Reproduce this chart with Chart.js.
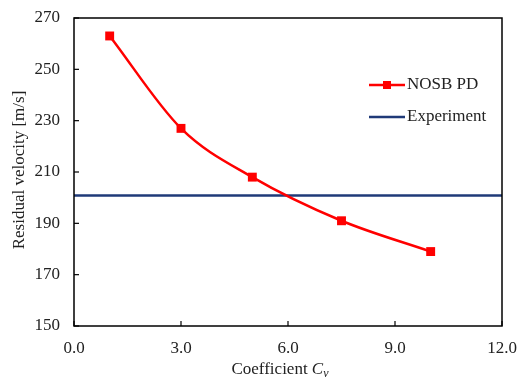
<!DOCTYPE html>
<html>
<head>
<meta charset="utf-8">
<script src="https://cdn.jsdelivr.net/npm/chart.js@4/dist/chart.umd.min.js"></script>
<style>
html,body{margin:0;padding:0;background:#fff;}
#wrap{width:519px;height:380px;position:relative;}
</style>
</head>
<body>
<div id="wrap"><canvas id="c" width="519" height="380"></canvas></div>
<script>
const cvValues = [1, 3, 5, 7.5, 10];
const nosbVelocity = [263, 227, 208, 191, 179];
const experimentVelocity = 200.8;
const xTicks = [0, 3, 6, 9, 12];
const yTicks = [150, 170, 190, 210, 230, 250, 270];
const seriesNames = ['NOSB PD', 'Experiment'];
const xTitle = 'Coefficient ';
const yTitle = 'Residual velocity [m/s]';

const FONT = '"Liberation Serif", "Times New Roman", serif';
const RED = '#ff0000';
const NAVY = '#1f3a78';
const TXT = '#222';

const nosbData = cvValues.map((x, i) => ({x: x, y: nosbVelocity[i]}));
const expData = [{x: xTicks[0], y: experimentVelocity}, {x: xTicks[xTicks.length - 1], y: experimentVelocity}];

const framePlugin = {
  id: 'frame',
  afterDraw(chart) {
    const {ctx, chartArea: a, scales} = chart;
    ctx.save();
    ctx.strokeStyle = '#000';
    ctx.lineWidth = 1.5;
    ctx.strokeRect(a.left, a.top, a.right - a.left, a.bottom - a.top);
    ctx.lineWidth = 1.2;
    ctx.fillStyle = TXT;
    ctx.font = '17px ' + FONT;
    // inside ticks + labels
    ctx.textAlign = 'center';
    ctx.textBaseline = 'middle';
    xTicks.forEach(v => {
      const px = scales.x.getPixelForValue(v);
      ctx.beginPath(); ctx.moveTo(px, a.bottom); ctx.lineTo(px, a.bottom - 5); ctx.stroke();
      ctx.fillText(v.toFixed(1), px, a.bottom + 23);
    });
    ctx.textAlign = 'right';
    yTicks.forEach(v => {
      const py = scales.y.getPixelForValue(v);
      ctx.beginPath(); ctx.moveTo(a.left, py); ctx.lineTo(a.left + 5, py); ctx.stroke();
      ctx.fillText(String(v), a.left - 14, py);
    });
    // legend
    const lx = 369, lx2 = 405;
    const ly1 = 85, ly2 = 117;
    ctx.lineWidth = 2.5;
    ctx.strokeStyle = RED;
    ctx.beginPath(); ctx.moveTo(lx, ly1); ctx.lineTo(lx2, ly1); ctx.stroke();
    ctx.fillStyle = RED;
    ctx.fillRect((lx + lx2) / 2 - 4, ly1 - 4, 8, 8);
    ctx.strokeStyle = NAVY;
    ctx.beginPath(); ctx.moveTo(lx, ly2); ctx.lineTo(lx2, ly2); ctx.stroke();
    ctx.fillStyle = TXT;
    ctx.font = '17px ' + FONT;
    ctx.textBaseline = 'middle';
    ctx.textAlign = 'left';
    ctx.fillText(seriesNames[0], lx2 + 2, ly1);
    ctx.fillText(seriesNames[1], lx2 + 2, ly2);
    // x title with italic C and subscript v
    ctx.font = '17px ' + FONT;
    const w1 = ctx.measureText(xTitle).width;
    ctx.font = 'italic 17px ' + FONT;
    const w2 = ctx.measureText('C').width;
    ctx.font = 'italic 12px ' + FONT;
    const w3 = ctx.measureText('v').width;
    const total = w1 + w2 + w3;
    let sx = 280 - total / 2;
    const ty = 374;
    ctx.textBaseline = 'alphabetic';
    ctx.font = '17px ' + FONT;
    ctx.fillText(xTitle, sx, ty);
    sx += w1;
    ctx.font = 'italic 17px ' + FONT;
    ctx.fillText('C', sx, ty);
    sx += w2;
    ctx.font = 'italic 12px ' + FONT;
    ctx.fillText('v', sx, ty + 3);
    // y title
    ctx.save();
    ctx.translate(20, 170);
    ctx.rotate(-Math.PI / 2);
    ctx.font = '17px ' + FONT;
    ctx.textAlign = 'center';
    ctx.textBaseline = 'middle';
    ctx.fillText(yTitle, 0, 0);
    ctx.restore();
    ctx.restore();
  }
};

new Chart(document.getElementById('c'), {
  type: 'line',
  data: {
    datasets: [
      {
        label: seriesNames[0],
        data: nosbData,
        borderColor: RED,
        backgroundColor: RED,
        borderWidth: 2.5,
        pointStyle: 'rect',
        pointRadius: 6.3,
        pointHoverRadius: 6.3,
        pointBorderWidth: 0,
        cubicInterpolationMode: 'monotone',
        fill: false
      },
      {
        label: seriesNames[1],
        data: expData,
        borderColor: NAVY,
        backgroundColor: NAVY,
        borderWidth: 2.5,
        pointRadius: 0,
        fill: false
      }
    ]
  },
  options: {
    responsive: false,
    animation: false,
    layout: {padding: {top: 18, right: 17, left: 0, bottom: 0}},
    plugins: {legend: {display: false}, tooltip: {enabled: false}},
    scales: {
      x: {
        type: 'linear',
        min: 0, max: 12,
        afterBuildTicks: s => { s.ticks = xTicks.map(v => ({value: v})); },
        afterFit: s => { s.height = 54; },
        grid: {display: false, drawTicks: false},
        border: {display: false},
        ticks: {display: false}
      },
      y: {
        type: 'linear',
        min: 150, max: 270,
        afterBuildTicks: s => { s.ticks = yTicks.map(v => ({value: v})); },
        afterFit: s => { s.width = 74; },
        grid: {display: false, drawTicks: false},
        border: {display: false},
        ticks: {display: false}
      }
    }
  },
  plugins: [framePlugin]
});
</script>
</body>
</html>
